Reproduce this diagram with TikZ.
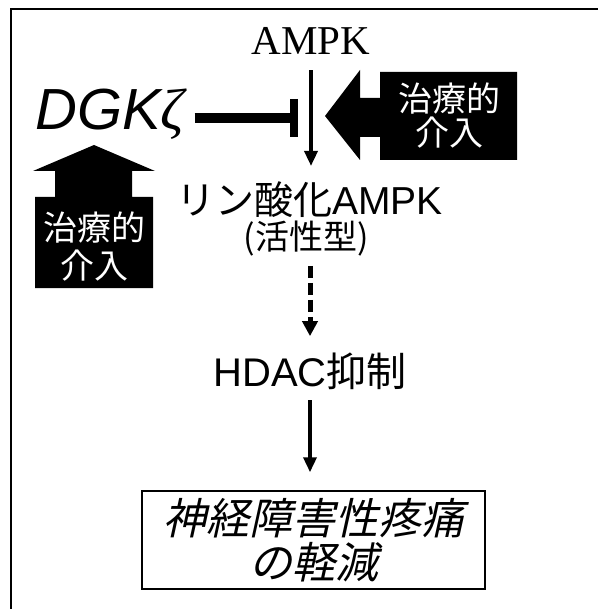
\documentclass[tikz,border=0pt]{standalone}
\usepackage{fontspec}
\setmainfont{Liberation Sans}
\newfontfamily\jp{Noto Sans CJK JP}
\newfontfamily\jpsl[FakeSlant=0.22]{Noto Sans CJK JP}
\newfontfamily\tms{Liberation Serif}
\usetikzlibrary{arrows.meta}
\begin{document}
\begin{tikzpicture}[x=1pt,y=-1pt,
  txt/.style={inner sep=0pt},
  arr/.style={line width=3.5pt,-{Triangle[length=15pt,width=13pt]}},
  dasharr/.style={line width=5pt,dash pattern=on 12pt off 5pt,-{Triangle[length=15pt,width=15pt]}},
  blk/.style={fill=black,draw=none},
  wtxt/.style={inner sep=0pt,text=white,align=center,font=\jp\fontsize{34}{36}\selectfont},
]
\useasboundingbox (0,0) rectangle (598,609);
% frame
\draw[line width=2pt] (11,609) -- (11,9) -- (598,9);

% text nodes
\node[txt,anchor=base,font=\tms\fontsize{41}{41}\selectfont] (ampk) at (311,55) {AMPK};
\node[txt,anchor=base west,font=\itshape\fontsize{58}{58}\selectfont] (dgk) at (35,130) {DGK{\tms\itshape ζ}};
\node[txt,anchor=base,font=\fontsize{39}{39}\selectfont] (pampk) at (309.5,215) {{\jp リン酸化}AMPK};
\node[txt,anchor=base,font=\jp\fontsize{34}{34}\selectfont] (act) at (306,250) {(活性型)};
\node[txt,anchor=base,font=\fontsize{40}{40}\selectfont] (hdac) at (310,386) {HDAC{\jp 抑制}};
\node[draw,line width=1.5pt,minimum width=343pt,minimum height=98pt,inner sep=0pt,
      align=center,font=\jpsl\fontsize{43}{44}\selectfont] (res) at (313.5,540) {神経障害性疼痛\\の軽減};

% block arrows (therapeutic intervention)
\path[blk] (325,116) -- (360,70) -- (360,98) -- (380,98) -- (380,72) -- (517,72)
  -- (517,160) -- (380,160) -- (380,137) -- (360,137) -- (360,160) -- cycle;
\node[wtxt,font=\jp\fontsize{34}{34}\selectfont] (tr) at (449,116) {治療的\\介入};
\path[blk] (94,145) -- (155,171) -- (132,171) -- (132,197) -- (153,197) -- (153,288)
  -- (35,288) -- (35,197) -- (55,197) -- (55,171) -- (33,171) -- cycle;
\node[wtxt,font=\jp\fontsize{34}{38}\selectfont] (tl) at (94,247) {治療的\\介入};

% connectors
\draw[arr,shorten <=15pt,shorten >=16pt] (ampk.south) -- (ampk.south |- pampk.north);
\coordinate (inh) at (294,118);
\draw[line width=10pt,shorten <=10pt] (dgk.east |- inh) -- (inh);
\draw[line width=8pt] ([yshift=19pt]inh) -- ([yshift=-19pt]inh);
\draw[dasharr,shorten <=9pt,shorten >=16pt] (hdac.north |- act.south) -- (hdac.north);
\draw[arr,shorten <=11pt,shorten >=18pt] (hdac.south) -- (hdac.south |- res.north);
\end{tikzpicture}
\end{document}
